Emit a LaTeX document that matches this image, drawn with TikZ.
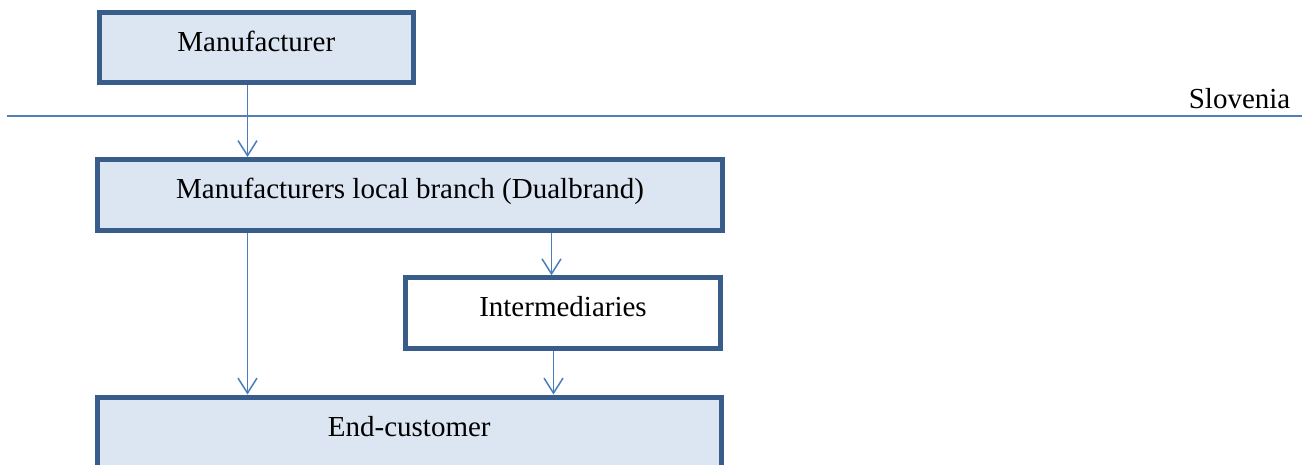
\documentclass[tikz,border=0pt]{standalone}
\usepackage{fontspec}
\setmainfont{Liberation Serif}
\usetikzlibrary{arrows.meta}
\definecolor{boxline}{HTML}{385D8A}
\definecolor{boxfill}{HTML}{DCE6F2}
\definecolor{conn}{HTML}{4A7EBB}
\definecolor{borderline}{HTML}{4F81BD}
\tikzset{
  box/.style={draw=boxline, line width=5pt, fill=boxfill, rectangle, inner sep=0pt,
    text height=20pt, text depth=12.5pt, minimum height=70.5pt},
  plainbox/.style={box, fill=white},
  link/.style={draw=conn, line width=1.5pt,
    -{Straight Barb[length=15pt,width=19pt]}},
  frontier/.style={draw=borderline, line width=2pt}
}
\begin{document}
\begin{tikzpicture}[x=1pt, y=-1pt, font=\fontsize{29}{34}\selectfont]
  \useasboundingbox (0,0) rectangle (1302,464);
  \clip (0,0) rectangle (1302,464);

  % country border
  \coordinate (hl) at (7,116);
  \coordinate (hr) at (1302,116);
  \draw[frontier] (hl) -- (hr);
  \node[anchor=base east, inner sep=0pt] (country) at (1290.5,108) {Slovenia};

  % distribution chain
  \node[box, minimum width=313.5pt] (mfr) at (256.25,47.25) {Manufacturer};
  \node[box, minimum width=625pt] (branch) at (410,194.75) {Manufacturers local branch (Dualbrand)};
  \node[plainbox, minimum width=315pt] (inter) at (563,313) {Intermediaries};
  \node[box, minimum width=623.5pt] (endc) at (409.25,432.25) {End-customer};

  % connector columns
  \coordinate (c1) at (247.5,0);
  \coordinate (c2) at (551.5,0);
  \coordinate (c3) at (553.5,0);

  \draw[link] (mfr.south -| c1) -- (branch.north -| c1);
  \draw[link] (branch.south -| c1) -- (endc.north -| c1);
  \draw[link] (branch.south -| c2) -- (inter.north -| c2);
  \draw[link] (inter.south -| c3) -- (endc.north -| c3);
\end{tikzpicture}
\end{document}
